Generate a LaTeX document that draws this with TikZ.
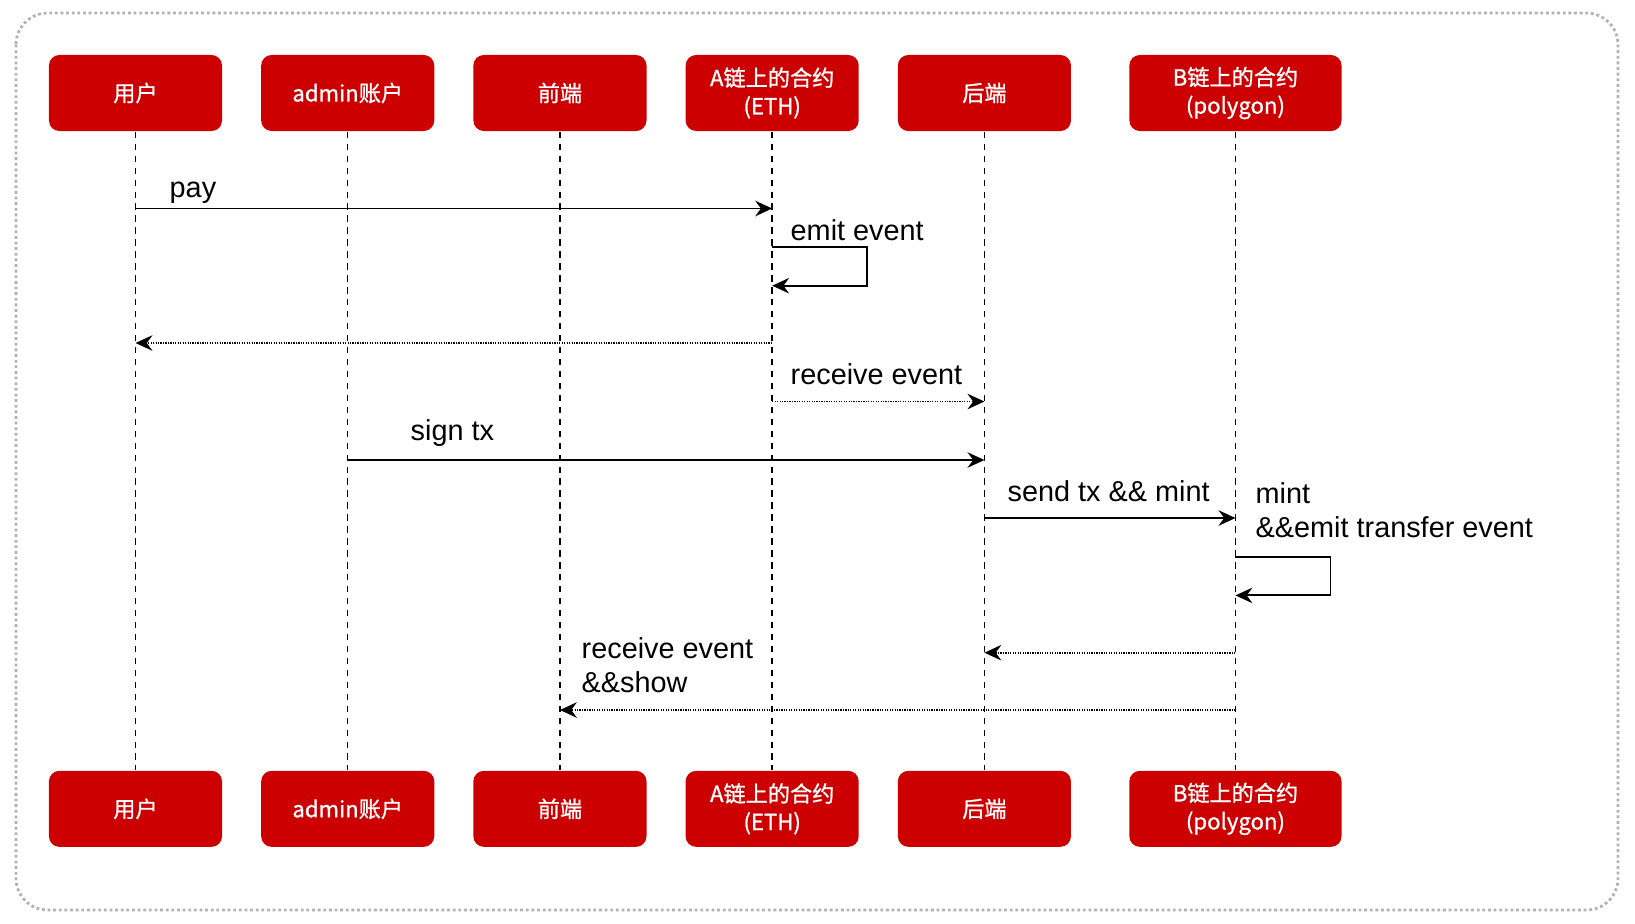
\documentclass[tikz,border=0pt]{standalone}
\usepackage{fontspec}
\setmainfont{Liberation Sans}
\newfontfamily\cjk[FakeBold=1]{Noto Sans CJK SC}
\usetikzlibrary{arrows.meta,positioning,calc}
\definecolor{boxred}{HTML}{CC0000}

\begin{document}
\begin{tikzpicture}[x=0.01cm, y=-0.01cm, >={Stealth[length=4.8pt,width=4.4pt,inset=1.6pt]},
    actor/.style={fill=boxred, rounded corners=3pt, minimum width=1.73cm, minimum height=0.76cm, inner sep=0pt,
        text=white, align=center, font=\cjk\fontsize{6.3}{8}\selectfont},
    life/.style={line width=0.4pt, dash pattern=on 1.8pt off 1.6pt},
    msg/.style={->, line width=0.55pt},
    reply/.style={->, line width=0.5pt, dash pattern=on 0.35pt off 0.35pt},
    lbl/.style={anchor=west, inner sep=0pt, align=left, font=\fontsize{8.2}{9.8}\selectfont}]
    \useasboundingbox (0,0) rectangle (1635,923);
    \draw[gray!60, line width=0.8pt, dash pattern=on 0.8pt off 0.8pt, rounded corners=9pt] (16,13) rectangle (1618,910);

    \node[actor] (user) at (135.5,93) {用户};
    \node[actor, right=0.377cm of user] (admin) {admin账户};
    \node[actor, right=0.377cm of admin] (front) {前端};
    \node[actor, right=0.377cm of front] (ethA) {A链上的合约\\(ETH)};
    \node[actor, right=0.377cm of ethA] (back) {后端};
    \node[actor, right=0.57cm of back, minimum width=2.12cm] (polyB) {B链上的合约\\(polygon)};

    \node[actor, below=6.38cm of user] (user2) {用户};
    \node[actor, below=6.38cm of admin] (admin2) {admin账户};
    \node[actor, below=6.38cm of front] (front2) {前端};
    \node[actor, below=6.38cm of ethA] (ethA2) {A链上的合约\\(ETH)};
    \node[actor, below=6.38cm of back] (back2) {后端};
    \node[actor, below=6.38cm of polyB, minimum width=2.12cm] (polyB2) {B链上的合约\\(polygon)};

    \draw[life] (user) -- (user2);
    \draw[life] (admin) -- (admin2);
    \draw[life] (front) -- (front2);
    \draw[life] (ethA) -- (ethA2);
    \draw[life] (back) -- (back2);
    \draw[life] (polyB) -- (polyB2);

    \coordinate (m1) at (0,208.5);
    \coordinate (m2) at (0,247);
    \coordinate (m3) at (0,285.7);
    \coordinate (m4) at (0,343);
    \coordinate (m5) at (0,401.5);
    \coordinate (m6) at (0,460);
    \coordinate (m7) at (0,518);
    \coordinate (m8) at (0,557);
    \coordinate (m9) at (0,595.4);
    \coordinate (m10) at (0,652.7);
    \coordinate (m11) at (0,710);

    \draw[msg] (user |- m1) -- (ethA |- m1);
    \draw[msg] (ethA |- m2) -- ++(95,0) |- (ethA |- m3);
    \draw[reply] (ethA |- m4) -- (user |- m4);
    \draw[reply] (ethA |- m5) -- (back |- m5);
    \draw[msg] (admin |- m6) -- (back |- m6);
    \draw[msg] (back |- m7) -- (polyB |- m7);
    \draw[msg] (polyB |- m8) -- ++(95,0) |- (polyB |- m9);
    \draw[reply] (polyB |- m10) -- (back |- m10);
    \draw[reply] (polyB |- m11) -- (front |- m11);

    \node[lbl] (paytxt) at (169,193) {pay};
    \node[lbl] (emittxt) at (790,230) {emit event};
    \node[lbl] (recvtxt) at (790,374) {receive event};
    \node[lbl] (signtxt) at (410,433) {sign tx};
    \node[lbl] (sendtxt) at (1007,491) {send tx \&\& mint};
    \node[lbl] (minttxt) at (1255,510) {mint\\\&\&emit transfer event};
    \node[lbl] (showtxt) at (581,665) {receive event\\\&\&show};
\end{tikzpicture}
\end{document}
